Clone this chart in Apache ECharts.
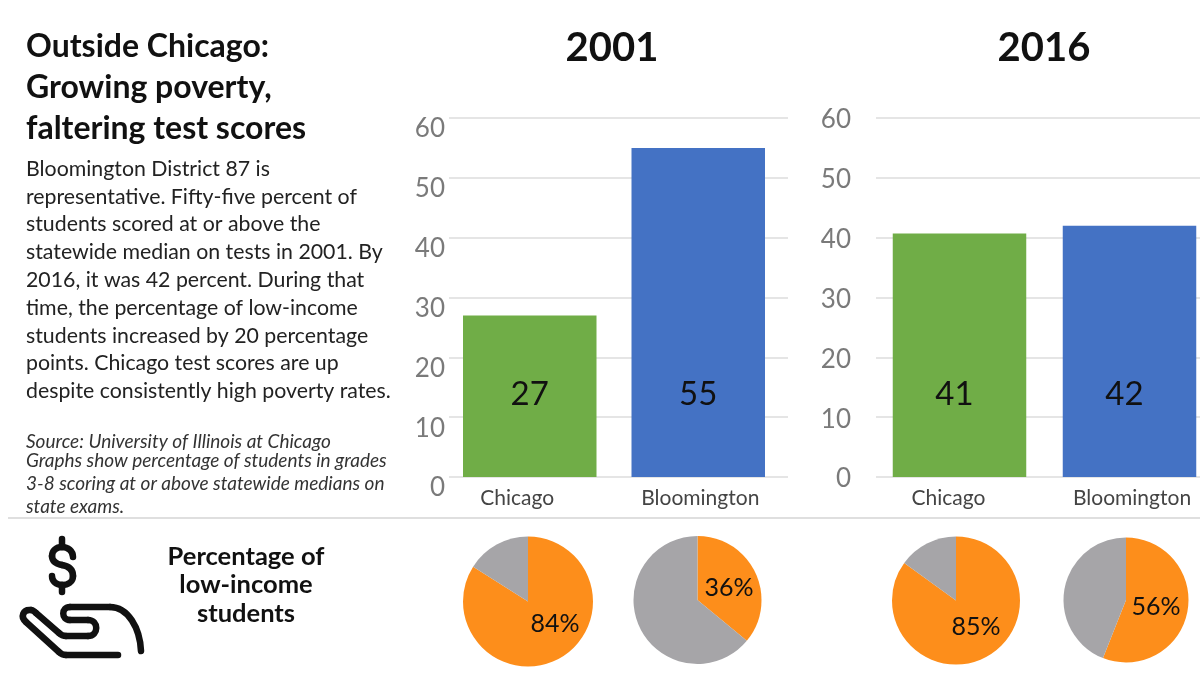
<!DOCTYPE html>
<html><head><meta charset="utf-8">
<script src="https://cdn.jsdelivr.net/npm/echarts@6/dist/echarts.min.js"></script>
<style>html,body{margin:0;padding:0;background:#fff}#c{width:1200px;height:675px}</style>
</head><body><div id="c"></div>
<script>
var categories = ['Chicago', 'Bloomington'];
var years = ['2001', '2016'];
var scores2001 = [27, 55];
var scores2016 = [40.7, 42];
var lowIncome2001 = [84, 36];
var lowIncome2016 = [85, 56];
var yTicks = [0, 10, 20, 30, 40, 50, 60];
var titleLines = ['Outside Chicago:', 'Growing poverty,', 'faltering test scores'];
var bodyLines = ['Bloomington District 87 is', 'representative. Fifty-five percent of', 'students scored at or above the',
  'statewide median on tests in 2001. By', '2016, it was 42 percent. During that', 'time, the percentage of low-income',
  'students increased by 20 percentage', 'points. Chicago test scores are up', 'despite consistently high poverty rates.'];
var sourceLines = ['Source: University of Illinois at Chicago', 'Graphs show percentage of students in grades',
  '3-8 scoring at or above statewide medians on', 'state exams.'];
var pieCaption = ['Percentage of', 'low-income', 'students'];

var FONT = 'Lato';
var GREEN = '#70AD47', BLUE = '#4472C4', ORANGE = '#FD8E1B', GREY = '#A6A5A8';

var panels = [
  {values: scores2001, gridL: 449, gridW: 339, barL: 445.5, barW: 337, margin: 4, padTop: 22, labelDx: [0, 0], pad: [[0, 25, 0, 0], [0, 0, 0, 4]]},
  {values: scores2016, gridL: 876, gridW: 324, barL: 874.5, barW: 340, margin: 25, padTop: 4, labelDx: [-5, -5], pad: [[0, 22, 0, 0], [0, 0, 0, 5]]}
];
var grids = [], xAxes = [], yAxes = [], series = [];
panels.forEach(function (p) {
  var a = grids.length, b = a + 1;
  grids.push({left: p.gridL, width: p.gridW, top: 118, height: 359, outerBoundsMode: 'none'});
  grids.push({left: p.barL, width: p.barW, top: 118, height: 359, outerBoundsMode: 'none'});
  xAxes.push({gridIndex: a, type: 'value', min: 0, max: 1, show: false, splitLine: {show: false}});
  yAxes.push({gridIndex: a, type: 'value', min: yTicks[0], max: yTicks[yTicks.length - 1], interval: 10,
    axisLine: {show: false}, axisTick: {show: false},
    splitLine: {show: true, lineStyle: {color: '#DDDDDD', width: 1.5}},
    axisLabel: {show: true, margin: p.margin, color: '#7A7A7A', fontFamily: FONT, fontSize: 26,
      formatter: function (v) { return '{t|' + v + '}'; },
      rich: {t: {padding: [p.padTop, 0, 0, 0], color: '#7A7A7A', fontFamily: FONT, fontSize: 26}}}});
  xAxes.push({gridIndex: b, type: 'category', data: categories,
    axisLine: {show: false}, axisTick: {show: false}, splitLine: {show: false},
    axisLabel: {margin: 11, interval: 0, color: '#444', fontFamily: FONT, fontSize: 21,
      formatter: function (v, i) { return '{s' + i + '|' + v + '}'; },
      rich: {
        s0: {padding: p.pad[0], color: '#444', fontFamily: FONT, fontSize: 21},
        s1: {padding: p.pad[1], color: '#444', fontFamily: FONT, fontSize: 21}
      }}});
  yAxes.push({gridIndex: b, type: 'value', min: 0, max: 60, show: false, splitLine: {show: false}});
  series.push({type: 'bar', xAxisIndex: b, yAxisIndex: b, barWidth: 133.5, z: 3,
    data: p.values.map(function (v, i) {
      return {value: v, itemStyle: {color: i === 0 ? GREEN : BLUE},
        label: {offset: [p.labelDx[i], 0]}};
    }),
    label: {show: true, position: 'insideBottom', distance: 66, color: '#111', fontFamily: FONT, fontSize: 33,
      formatter: function (d) { return String(Math.round(d.value)); }}});
});

var pies = [
  {value: lowIncome2001[0], c: [528, 601.5], r: 65},
  {value: lowIncome2001[1], c: [697.5, 600], r: 64},
  {value: lowIncome2016[0], c: [956, 600.5], r: 64},
  {value: lowIncome2016[1], c: [1126, 600], r: 62.5}
];
var pieLabelAt = [[555, 624], [729, 588], [976, 627], [1156, 607]];
pies.forEach(function (p, k) {
  series.push({type: 'pie', center: p.c, radius: [0, p.r], startAngle: 90, clockwise: true, silent: true,
    data: [
      {value: p.value, name: 'Low-income', itemStyle: {color: ORANGE}},
      {value: 100 - p.value, name: 'Other', itemStyle: {color: GREY}, label: {show: false}}
    ],
    labelLine: {show: false},
    label: {show: true, position: 'inside', color: '#111', fontFamily: FONT, fontSize: 25,
      formatter: function (d) { return d.value + '%'; }},
    labelLayout: {x: pieLabelAt[k][0], y: pieLabelAt[k][1], align: 'center', verticalAlign: 'middle'}});
});

var g = [];
function text(s, x, y, size, opt) {
  opt = opt || {};
  g.push({type: 'text', x: x, y: y, silent: true, style: {text: s, fontFamily: FONT, fontSize: size,
    fontWeight: opt.w || 'normal', fontStyle: opt.i ? 'italic' : 'normal', fill: opt.c || '#1a1a1a',
    align: opt.a || 'left', verticalAlign: 'middle'}});
}
titleLines.forEach(function (s, i) { text(s, 26, 47 + i * 41, 32, {w: 'bold', c: '#111'}); });
bodyLines.forEach(function (s, i) { text(s, 26, 169 + i * 27.8, 21.3, {c: '#222'}); });
var srcY = [442, 461, 484, 507];
sourceLines.forEach(function (s, i) { text(s, 26, srcY[i], 19, {i: true, c: '#333'}); });
text(years[0], 612, 48, 40, {w: 'bold', a: 'center', c: '#111'});
text(years[1], 1044, 48, 40, {w: 'bold', a: 'center', c: '#111'});
var capY = [557, 585, 614];
pieCaption.forEach(function (s, i) { text(s, 246, capY[i], 25.5, {w: 'bold', a: 'center', c: '#111'}); });
g.push({type: 'line', silent: true, shape: {x1: 8, y1: 518, x2: 1200, y2: 518}, style: {stroke: '#D4D4D4', lineWidth: 1.5}});

function stroke(segments, width) {
  segments.forEach(function (s) {
    var st = {fill: 'none', stroke: '#111', lineWidth: width, lineCap: 'round'};
    if (s.length === 4) {
      g.push({type: 'line', silent: true, shape: {x1: s[0], y1: s[1], x2: s[2], y2: s[3]}, style: st});
    } else {
      g.push({type: 'bezierCurve', silent: true, shape: {x1: s[0], y1: s[1], cpx1: s[2], cpy1: s[3], cpx2: s[4], cpy2: s[5], x2: s[6], y2: s[7]}, style: st});
    }
  });
}
stroke([
  [62, 539, 62, 547], [73, 557, 73, 551, 68, 547, 62, 547], [62, 547, 56, 547, 52, 551, 52, 556],
  [52, 556, 52, 562, 57, 564, 62, 565], [62, 565, 68, 566, 73, 569, 73, 576], [73, 576, 73, 582, 68, 585, 62, 585],
  [62, 585, 56, 585, 52, 581, 52, 576], [62, 585, 62, 592]
], 6.5);
stroke([
  [118, 655, 66, 655], [66, 655, 63, 655, 61, 654, 59, 652], [59, 652, 26, 622], [26, 622, 20, 617, 23, 609, 31, 610],
  [31, 610, 33, 610, 34, 611, 36, 613], [36, 613, 59, 633], [59, 633, 61, 635, 63, 636, 66, 636], [66, 636, 88, 636],
  [88, 636, 99, 636, 99, 620, 88, 620], [88, 620, 70, 620], [70, 620, 61, 620, 61, 607, 70, 607], [70, 607, 110, 607],
  [110, 607, 128, 607, 140, 628, 141, 651]
], 6.5);

var chart = echarts.init(document.getElementById('c'), null, {renderer: 'canvas'});
chart.setOption({animation: false, backgroundColor: '#fff', grid: grids, xAxis: xAxes, yAxis: yAxes, series: series, graphic: g});
</script></body></html>
